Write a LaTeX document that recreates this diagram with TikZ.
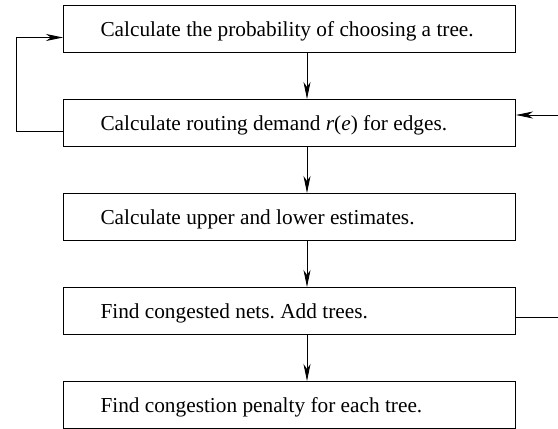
\documentclass[tikz,border=0pt]{standalone}
\usepackage{fontspec}
\setmainfont{Liberation Serif}
\usetikzlibrary{arrows.meta}
\begin{document}
\frenchspacing
\begin{tikzpicture}[x=1pt,y=1pt,
  stepbox/.style={draw, line width=1pt, minimum height=47pt,
    text width=378pt, align=flush left, inner xsep=37pt, inner ysep=0pt,
    text height=19pt, text depth=4pt,
    font=\fontsize{21.3}{25}\selectfont},
  flow/.style={line width=0.9pt, -{Stealth[length=17pt,width=7pt,inset=5pt]}},
  link/.style={line width=0.9pt}]
  \useasboundingbox (0,0) rectangle (558,429);
  % process steps
  \node[stepbox, anchor=north west] (b1) at (63,424) {Calculate the probability of choosing a tree.};
  \node[stepbox, anchor=north west] (b2) at (63,330) {Calculate routing demand \textit{r}(\textit{e}) for edges.};
  \node[stepbox, anchor=north west] (b3) at (63,236) {Calculate upper and lower estimates.};
  \node[stepbox, anchor=north west] (b4) at (63,142) {Find congested nets. Add trees.};
  \node[stepbox, anchor=north west] (b5) at (63,48) {Find congestion penalty for each tree.};
  % downward flow
  \coordinate (ax) at (307,0);
  \draw[flow] (b1.south -| ax) -- (b2.north -| ax);
  \draw[flow] (b2.south -| ax) -- (b3.north -| ax);
  \draw[flow] (b3.south -| ax) -- (b4.north -| ax);
  \draw[flow] (b4.south -| ax) -- (b5.north -| ax);
  % attachment points for the feedback lines
  \coordinate (b1in) at ([yshift=-8.5pt]b1.west);
  \coordinate (b2out) at ([yshift=-8pt]b2.west);
  \coordinate (b2in) at ([yshift=8pt]b2.east);
  \coordinate (b4out) at ([yshift=-6pt]b4.east);
  % feedback loop on the left
  \coordinate (lx) at (16,0);
  \draw[flow] (b2out) -- (lx |- b2out) -- (lx |- b1in) -- (b1in);
  % feedback on the right, leaving the frame
  \coordinate (rx) at (558,0);
  \draw[link] (b4out) -- (rx |- b4out);
  \draw[flow] (rx |- b2in) -- (b2in);
\end{tikzpicture}
\end{document}
